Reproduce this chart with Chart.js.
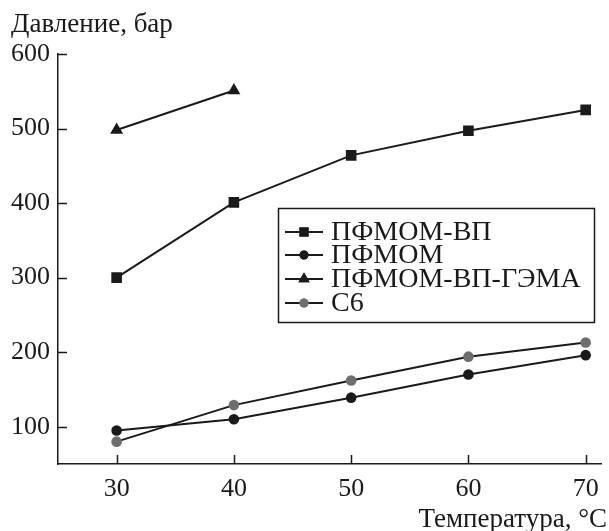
<!DOCTYPE html>
<html>
<head>
<meta charset="utf-8">
<script src="https://cdn.jsdelivr.net/npm/chart.js@4.4.0/dist/chart.umd.min.js"></script>
<style>
  html, body { margin: 0; padding: 0; background: #fff; }
  #wrap { width: 609px; height: 531px; position: relative; }
</style>
</head>
<body>
<div id="wrap"><canvas id="c" width="609" height="531"></canvas></div>
<script>
// ---- data ----
const temps = [30, 40, 50, 60, 70];
const tempsGema = [30, 40];
const pfmomVp = [300, 401, 464, 497, 525];
const pfmom = [95, 110, 139, 170, 196];
const pfmomVpGema = [498, 551];
const c6 = [80, 129, 162, 194, 213];
const seriesNames = ['ПФМОМ-ВП', 'ПФМОМ', 'ПФМОМ-ВП-ГЭМА', 'С6'];
const xTicks = [30, 40, 50, 60, 70];
const yTicks = [100, 200, 300, 400, 500, 600];
const yTitle = 'Давление, бар';
const xTitle = 'Температура, °C';

const FONT = '"Liberation Serif", serif';
const INK = '#1a1a1a';
const GRAY = '#6e6e70';

function pts(xs, ys) { return xs.map((x, i) => ({ x: x, y: ys[i] })); }

const datasets = [
  { label: seriesNames[0], data: pts(temps, pfmomVp), pointStyle: 'rect', pointRadius: 7.5,
    borderColor: INK, backgroundColor: INK, pointBackgroundColor: INK, pointBorderColor: INK, legendRadius: 6.5 },
  { label: seriesNames[1], data: pts(temps, pfmom), pointStyle: 'circle', pointRadius: 5.3,
    borderColor: INK, backgroundColor: INK, pointBackgroundColor: INK, pointBorderColor: INK, legendRadius: 4.5 },
  { label: seriesNames[2], data: pts(tempsGema, pfmomVpGema), pointStyle: 'triangle', pointRadius: 7.5,
    borderColor: INK, backgroundColor: INK, pointBackgroundColor: INK, pointBorderColor: INK, legendRadius: 6.5 },
  { label: seriesNames[3], data: pts(temps, c6), pointStyle: 'circle', pointRadius: 5.3,
    borderColor: INK, backgroundColor: GRAY, pointBackgroundColor: GRAY, pointBorderColor: GRAY, legendRadius: 4.5 }
].map(d => Object.assign({ borderWidth: 2, pointBorderWidth: 0, fill: false, tension: 0, showLine: true }, d));

// inward tick marks + axis titles + legend box
const decor = {
  id: 'decor',
  afterDraw(chart) {
    const ctx = chart.ctx;
    const xs = chart.scales.x, ys = chart.scales.y;
    const area = chart.chartArea;
    ctx.save();
    ctx.strokeStyle = INK;
    ctx.lineWidth = 1.5;
    ctx.beginPath();
    yTicks.forEach(v => {
      const py = Math.round(ys.getPixelForValue(v)) + 0.5;
      ctx.moveTo(area.left, py); ctx.lineTo(area.left + 9, py);
    });
    xTicks.forEach(v => {
      const px = Math.round(xs.getPixelForValue(v)) + 0.5;
      ctx.moveTo(px, area.bottom); ctx.lineTo(px, area.bottom - 9);
    });
    ctx.stroke();

    // axis titles
    ctx.fillStyle = INK;
    ctx.font = '27px ' + FONT;
    ctx.textBaseline = 'alphabetic';
    ctx.textAlign = 'left';
    ctx.fillText(yTitle, 11, 32);
    ctx.textAlign = 'right';
    ctx.fillText(xTitle, 607, 527);

    // legend
    const L = 278, T = 208, R = 594, B = 322;
    ctx.lineWidth = 1.5;
    ctx.strokeRect(L + 0.5, T + 0.5, R - L, B - T);
    const rows = [232, 255, 279, 303];
    ctx.font = '28px ' + FONT;
    ctx.textAlign = 'left';
    ctx.textBaseline = 'middle';
    chart.data.datasets.forEach((ds, i) => {
      const y = rows[i];
      ctx.strokeStyle = ds.borderColor;
      ctx.lineWidth = 2;
      ctx.beginPath(); ctx.moveTo(285, y); ctx.lineTo(323, y); ctx.stroke();
      ctx.fillStyle = ds.pointBackgroundColor;
      Chart.helpers.drawPoint(ctx, { pointStyle: ds.pointStyle, radius: ds.legendRadius, borderWidth: 0 }, 304, y);
      ctx.fill();
      ctx.fillStyle = INK;
      ctx.fillText(ds.label, 331, y + 1);
    });
    ctx.restore();
  }
};

function build() {
  new Chart(document.getElementById('c'), {
    type: 'line',
    data: { datasets: datasets },
    options: {
      responsive: false,
      animation: false,
      devicePixelRatio: 1,
      layout: { padding: { top: 54, right: 0, left: 0, bottom: 0 } },
      plugins: { legend: { display: false }, title: { display: false }, tooltip: { enabled: false } },
      scales: {
        x: {
          type: 'linear', min: 25, max: 71.35,
          grid: { display: false, drawTicks: false },
          border: { display: true, color: INK, width: 1.5 },
          ticks: { color: INK, font: { family: FONT, size: 26 }, padding: 10 },
          afterBuildTicks(s) { s.ticks = xTicks.map(v => ({ value: v })); },
          afterFit(s) { s.height = 531 - 464; s.paddingLeft = 0; s.paddingRight = 0; }
        },
        y: {
          type: 'linear', min: 50, max: 600,
          grid: { display: false, drawTicks: false },
          border: { display: true, color: INK, width: 1.5 },
          ticks: { color: INK, font: { family: FONT, size: 26 }, padding: 8 },
          afterBuildTicks(s) { s.ticks = yTicks.map(v => ({ value: v })); },
          afterFit(s) { s.width = 58; s.paddingTop = 0; s.paddingBottom = 0; }
        }
      }
    },
    plugins: [decor]
  });
}
if (document.fonts && document.fonts.load) {
  Promise.all([document.fonts.load('26px "Liberation Serif"'), document.fonts.load('28px "Liberation Serif"')])
    .then(build, build);
} else { build(); }
</script>
</body>
</html>
